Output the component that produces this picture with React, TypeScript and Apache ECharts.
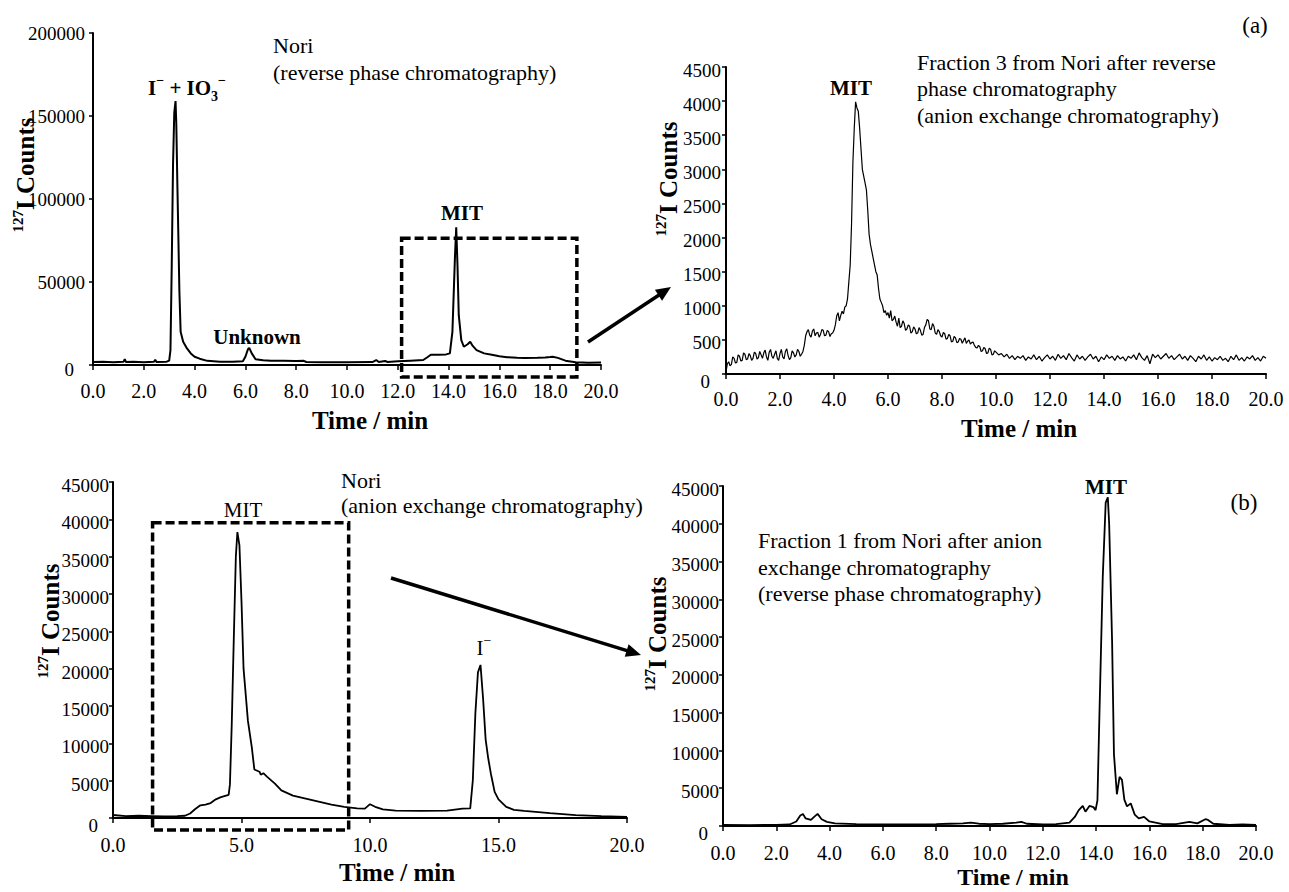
import React, { useEffect, useRef } from "react";
import * as echarts from "echarts";

// ---------- data (time / min, 127I counts) ----------
const noriReversePhase: [number, number][] = [
  [0.0, 1800], [0.4, 2000], [0.8, 1700], [1.2, 1900], [1.25, 3500], [1.3, 1800], [1.6, 2000], [2.0, 1700],
  [2.4, 1900], [2.45, 3200], [2.5, 1800], [2.9, 2000], [3.0, 2600], [3.05, 9000], [3.1, 60000], [3.15, 120000],
  [3.2, 152000], [3.25, 159000], [3.28, 145000], [3.32, 110000], [3.36, 78000], [3.4, 45000], [3.45, 20000],
  [3.55, 14000], [3.7, 10000], [3.85, 7000], [4.0, 5000], [4.2, 3800], [4.5, 2500], [5.0, 2000], [5.5, 1900],
  [5.9, 2200], [6.0, 5000], [6.1, 9500], [6.15, 10300], [6.25, 7000], [6.4, 3500], [6.7, 2800], [7.0, 2600],
  [7.5, 2500], [8.0, 2400], [8.3, 2500], [8.4, 1800], [9.0, 1700], [10.0, 1700], [11.0, 1800], [11.15, 3000],
  [11.25, 1800], [11.5, 2400], [11.6, 1800], [12.0, 2200], [12.5, 2600], [13.0, 3000], [13.15, 4500],
  [13.3, 6200], [13.6, 6200], [13.9, 6400], [14.05, 7000], [14.15, 20000], [14.25, 65000], [14.3, 83000],
  [14.35, 60000], [14.4, 30000], [14.5, 15000], [14.6, 11000], [14.75, 12500], [14.85, 14000], [14.95, 11500],
  [15.1, 9000], [15.4, 7000], [15.7, 6200], [16.0, 5300], [16.3, 4700], [16.7, 4400], [17.0, 4200],
  [17.5, 4300], [17.8, 4500], [18.0, 4800], [18.1, 5000], [18.3, 4300], [18.6, 2600], [19.0, 1600],
  [19.5, 1400], [20.0, 1500],
];

const fraction3Anion: [number, number][] = [
  [0.0, 30], [0.05, 150], [0.1, 180], [0.15, 120], [0.2, 140], [0.25, 250], [0.3, 230], [0.35, 160], [0.4, 170],
  [0.45, 280], [0.5, 260], [0.55, 190], [0.6, 200], [0.65, 310], [0.7, 290], [0.75, 210], [0.8, 220], [0.85, 300],
  [0.9, 270], [0.95, 200], [1.0, 230], [1.05, 320], [1.1, 300], [1.15, 220], [1.2, 240], [1.25, 330], [1.3, 280],
  [1.35, 230], [1.4, 310], [1.45, 350], [1.5, 250], [1.55, 200], [1.6, 320], [1.65, 360], [1.7, 260], [1.75, 230],
  [1.8, 290], [1.85, 340], [1.9, 230], [1.95, 200], [2.0, 300], [2.05, 360], [2.1, 250], [2.15, 220], [2.2, 330],
  [2.25, 370], [2.3, 270], [2.35, 210], [2.4, 240], [2.45, 340], [2.5, 310], [2.55, 250], [2.6, 280], [2.65, 360],
  [2.7, 330], [2.75, 260], [2.8, 290], [2.85, 330], [2.9, 420], [2.95, 560], [3.0, 620], [3.05, 650], [3.1, 570],
  [3.15, 540], [3.2, 630], [3.25, 660], [3.3, 560], [3.35, 600], [3.4, 610], [3.45, 540], [3.5, 580], [3.55, 650],
  [3.6, 640], [3.65, 560], [3.7, 570], [3.75, 640], [3.8, 620], [3.85, 550], [3.9, 590], [3.95, 600], [4.0, 640],
  [4.05, 720], [4.1, 850], [4.15, 900], [4.2, 780], [4.25, 860], [4.3, 920], [4.35, 880], [4.4, 980], [4.45, 1000],
  [4.5, 1100], [4.55, 1350], [4.6, 1600], [4.65, 2200], [4.7, 3100], [4.75, 3600], [4.8, 3990], [4.85, 3900],
  [4.9, 3850], [4.95, 3600], [5.0, 3300], [5.05, 3000], [5.1, 2900], [5.15, 2800], [5.2, 2700], [5.25, 2400],
  [5.3, 2050], [5.35, 1900], [5.4, 1800], [5.45, 1700], [5.5, 1600], [5.55, 1500], [5.6, 1450], [5.65, 1250],
  [5.7, 1100], [5.75, 1050], [5.8, 1000], [5.85, 900], [5.9, 930], [5.95, 860], [6.0, 900], [6.05, 820],
  [6.1, 930], [6.15, 780], [6.2, 800], [6.25, 850], [6.3, 760], [6.35, 700], [6.4, 820], [6.45, 680], [6.5, 700],
  [6.55, 780], [6.6, 740], [6.65, 640], [6.7, 660], [6.75, 720], [6.8, 700], [6.85, 600], [6.9, 620], [6.95, 690],
  [7.0, 660], [7.05, 590], [7.1, 600], [7.15, 680], [7.2, 640], [7.25, 570], [7.3, 580], [7.35, 680], [7.4, 720],
  [7.45, 800], [7.5, 780], [7.55, 660], [7.6, 650], [7.65, 740], [7.7, 700], [7.75, 600], [7.8, 580], [7.85, 650],
  [7.9, 620], [7.95, 560], [8.0, 540], [8.05, 610], [8.1, 590], [8.15, 510], [8.2, 520], [8.25, 580], [8.3, 560],
  [8.35, 470], [8.4, 480], [8.45, 550], [8.5, 530], [8.55, 460], [8.6, 470], [8.65, 520], [8.7, 510], [8.75, 450],
  [8.8, 490], [8.85, 530], [8.9, 450], [8.95, 480], [9.0, 500], [9.05, 440], [9.1, 460], [9.15, 470], [9.2, 420],
  [9.25, 390], [9.3, 380], [9.35, 420], [9.4, 400], [9.45, 330], [9.5, 340], [9.55, 390], [9.6, 370], [9.65, 300],
  [9.7, 310], [9.75, 380], [9.8, 360], [9.85, 280], [9.9, 290], [9.95, 340], [10.0, 320], [10.1, 280], [10.2, 300],
  [10.3, 250], [10.4, 290], [10.5, 230], [10.6, 270], [10.7, 210], [10.8, 260], [10.9, 230], [11.0, 270],
  [11.1, 200], [11.2, 250], [11.3, 220], [11.4, 280], [11.5, 210], [11.6, 260], [11.7, 190], [11.8, 240],
  [11.9, 280], [12.0, 220], [12.1, 260], [12.2, 200], [12.3, 290], [12.4, 230], [12.5, 270], [12.6, 210],
  [12.7, 300], [12.8, 240], [12.9, 190], [13.0, 280], [13.1, 220], [13.2, 260], [13.3, 200], [13.4, 250],
  [13.5, 290], [13.6, 220], [13.7, 260], [13.8, 180], [13.9, 250], [14.0, 210], [14.1, 280], [14.2, 230],
  [14.3, 260], [14.4, 200], [14.5, 270], [14.6, 220], [14.7, 250], [14.8, 190], [14.9, 260], [15.0, 230],
  [15.1, 280], [15.2, 210], [15.3, 310], [15.4, 240], [15.5, 200], [15.6, 270], [15.7, 150], [15.8, 290],
  [15.9, 240], [16.0, 280], [16.1, 220], [16.2, 260], [16.3, 300], [16.4, 230], [16.5, 270], [16.6, 210],
  [16.7, 250], [16.8, 290], [16.9, 220], [17.0, 260], [17.1, 200], [17.2, 270], [17.3, 230], [17.4, 180],
  [17.5, 260], [17.6, 220], [17.7, 280], [17.8, 200], [17.9, 250], [18.0, 190], [18.1, 240], [18.2, 210],
  [18.3, 260], [18.4, 200], [18.5, 230], [18.6, 180], [18.7, 260], [18.8, 210], [18.9, 280], [19.0, 200],
  [19.1, 240], [19.2, 190], [19.3, 250], [19.4, 220], [19.5, 270], [19.6, 200], [19.7, 240], [19.8, 190],
  [19.9, 260], [20.0, 230],
];

const noriAnion: [number, number][] = [
  [0.0, 400], [0.5, 250], [1.0, 300], [1.5, 250], [2.0, 200], [2.5, 250], [2.8, 300], [3.0, 600], [3.2, 1200],
  [3.4, 1700], [3.6, 1800], [3.8, 2000], [4.0, 2500], [4.2, 2800], [4.4, 3000], [4.5, 3100], [4.55, 4500],
  [4.62, 12500], [4.7, 24000], [4.78, 35000], [4.84, 38300], [4.92, 36500], [5.0, 29000], [5.08, 20000],
  [5.25, 13000], [5.4, 9500], [5.5, 6500], [5.7, 6200], [5.75, 5800], [5.85, 6000], [6.0, 5500], [6.3, 4600],
  [6.55, 3700], [7.0, 3000], [7.5, 2600], [8.0, 2200], [8.5, 1800], [9.0, 1500], [9.5, 1300], [9.8, 1250],
  [10.0, 1850], [10.2, 1500], [10.5, 1150], [11.0, 1000], [12.0, 950], [13.0, 1000], [13.6, 1250], [13.9, 1300],
  [14.0, 5000], [14.1, 14000], [14.2, 19500], [14.3, 20500], [14.4, 16000], [14.5, 10500], [14.6, 8000],
  [14.7, 6000], [14.85, 3500], [15.0, 2500], [15.3, 1500], [15.6, 1100], [16.0, 950], [17.0, 650], [18.0, 380],
  [19.0, 250], [20.0, 150],
];

const fraction1Reverse: [number, number][] = [
  [0.0, 150], [1.0, 120], [2.0, 150], [2.5, 200], [2.75, 600], [2.9, 1400], [3.0, 1600], [3.1, 1000], [3.3, 800],
  [3.45, 1300], [3.55, 1600], [3.7, 900], [3.9, 550], [4.2, 350], [5.0, 250], [6.0, 200], [7.0, 200], [8.0, 250],
  [8.5, 300], [9.0, 350], [9.3, 450], [9.6, 300], [10.0, 250], [10.5, 300], [11.0, 450], [11.2, 550], [11.4, 300],
  [12.0, 200], [12.5, 250], [13.0, 450], [13.2, 1200], [13.35, 2100], [13.5, 2650], [13.6, 1900], [13.75, 2650],
  [13.9, 2500], [13.98, 2100], [14.05, 3400], [14.13, 15500], [14.25, 33000], [14.36, 42800], [14.44, 43500],
  [14.49, 40000], [14.6, 24500], [14.67, 9500], [14.78, 4200], [14.88, 6500], [14.97, 6100], [15.06, 3500],
  [15.16, 2600], [15.3, 3000], [15.45, 1500], [15.6, 1000], [15.8, 1200], [16.0, 600], [16.5, 250], [17.0, 250],
  [17.5, 550], [17.8, 350], [18.1, 900], [18.2, 800], [18.4, 300], [19.0, 150], [19.5, 200], [20.0, 150],
];

// dashed selection boxes in data space: [t0, t1, countLow, countHigh]
const boxReversePhase = [12.15, 19.05, -7200, 76300];
const boxAnion = [1.54, 9.17, -1600, 39550];

const FONT = '"Liberation Serif", "Times New Roman", serif';

export default function App() {
  const ref = useRef<HTMLDivElement>(null);

  useEffect(() => {
    const chart = echarts.init(ref.current!, null, { renderer: "svg" });

    const grids = [
      { left: 93, top: 33, width: 508, height: 332 },
      { left: 726, top: 67, width: 540, height: 307 },
      { left: 113, top: 482, width: 514, height: 336 },
      { left: 723, top: 486, width: 533, height: 340 },
    ];

    const xAxis = (gridIndex: number, interval: number, margin: number) => ({
      type: "value",
      gridIndex,
      min: 0,
      max: 20,
      interval,
      axisLine: { show: true, onZero: false, lineStyle: { color: "#000", width: 2 } },
      axisTick: { show: true, length: 5, lineStyle: { color: "#000", width: 1.5 } },
      axisLabel: {
        color: "#000",
        fontFamily: FONT,
        fontSize: 20,
        margin,
        formatter: (v: number) => v.toFixed(1),
      },
      splitLine: { show: false },
    });

    const yAxis = (gridIndex: number, max: number, interval: number, margin: number, drop: number) => ({
      type: "value",
      gridIndex,
      min: 0,
      max,
      interval,
      axisLine: { show: true, onZero: false, lineStyle: { color: "#000", width: 2 } },
      axisTick: { show: true, length: 4, lineStyle: { color: "#000", width: 1.5 } },
      axisLabel: {
        color: "#000",
        fontFamily: FONT,
        fontSize: 19,
        margin,
        formatter: (v: number) => (v === 0 ? "{z|0}" : "{n|" + String(v) + "}"),
        rich: {
          n: { fontFamily: FONT, fontSize: 19, color: "#000", padding: [drop, 0, 0, 0] },
          z: { fontFamily: FONT, fontSize: 19, color: "#000", padding: [drop + 8, 11, 0, 0] },
        },
      },
      splitLine: { show: false },
    });

    const line = (i: number, data: [number, number][], width: number) => ({
      type: "line",
      xAxisIndex: i,
      yAxisIndex: i,
      data,
      showSymbol: false,
      symbol: "none",
      smooth: false,
      lineStyle: { color: "#000", width },
      silent: true,
    });

    chart.setOption({
      animation: false,
      backgroundColor: "#fff",
      grid: grids,
      xAxis: [xAxis(0, 2, 16), xAxis(1, 2, 15), xAxis(2, 5, 17), xAxis(3, 2, 17)],
      yAxis: [
        yAxis(0, 200000, 50000, 8, 0),
        yAxis(1, 4500, 500, 5, 6),
        yAxis(2, 45000, 5000, 4, 7),
        yAxis(3, 45000, 5000, 4, 6),
      ],
      series: [
        line(0, noriReversePhase, 2),
        line(1, fraction3Anion, 1.2),
        line(2, noriAnion, 1.8),
        line(3, fraction1Reverse, 1.8),
      ],
    });

    const txt = (x: number, y: number, text: string, o: any = {}) => ({
      type: "text",
      x,
      y,
      rotation: o.rot || 0,
      silent: true,
      z: 100,
      style: {
        text,
        fill: "#000",
        fontFamily: FONT,
        fontSize: o.size || 22,
        fontWeight: o.bold ? "bold" : "normal",
        textAlign: o.align || "center",
        textVerticalAlign: "middle",
        align: o.align || "center",
        verticalAlign: "middle",
        rich: o.rich,
      },
    });

    const tok = (size: number, bold: boolean, va: string, lh: number) => ({
      fontSize: size,
      fontWeight: bold ? "bold" : "normal",
      fontFamily: FONT,
      fill: "#000",
      color: "#000",
      verticalAlign: va,
      lineHeight: lh,
    });

    const richY = { s: tok(15, true, "top", 30), b: tok(25, true, "middle", 30) };
    const richIon = { s: tok(14, true, "top", 30), u: tok(14, true, "bottom", 30), b: tok(21, true, "middle", 30) };
    const richIodide = { s: tok(14, false, "top", 30), b: tok(21, false, "middle", 30) };

    const yName = (x: number, y: number) =>
      txt(x, y, "{s|127}{b|I Counts}", { rot: Math.PI / 2, rich: richY });

    const rectBox = (gridIndex: number, b: number[]) => {
      const p0 = chart.convertToPixel({ gridIndex }, [b[0], b[3]]) as number[];
      const p1 = chart.convertToPixel({ gridIndex }, [b[1], b[2]]) as number[];
      return {
        type: "rect",
        silent: true,
        z: 90,
        shape: { x: p0[0], y: p0[1], width: p1[0] - p0[0], height: p1[1] - p0[1] },
        style: { fill: "none", stroke: "#000", lineWidth: 3.5, lineDash: [9, 4] },
      };
    };

    const arrow = (p0: number[], p1: number[]) => {
      const dx = p1[0] - p0[0];
      const dy = p1[1] - p0[1];
      const L = Math.hypot(dx, dy);
      const ux = dx / L;
      const uy = dy / L;
      const head = 15;
      const half = 6.5;
      const bx = p1[0] - ux * head;
      const by = p1[1] - uy * head;
      const nx = -uy;
      const ny = ux;
      return [
        {
          type: "line",
          silent: true,
          z: 90,
          shape: { x1: p0[0], y1: p0[1], x2: bx + ux * 2, y2: by + uy * 2 },
          style: { stroke: "#000", lineWidth: 3.5 },
        },
        {
          type: "polygon",
          silent: true,
          z: 90,
          shape: {
            points: [
              [p1[0], p1[1]],
              [bx + nx * half, by + ny * half],
              [bx - nx * half, by - ny * half],
            ],
          },
          style: { fill: "#000" },
        },
      ];
    };

    const graphics: any[] = [
      rectBox(0, boxReversePhase),
      rectBox(2, boxAnion),
      ...arrow([588, 342], [671, 287]),
      ...arrow([391, 578], [641, 655]),
      // panel (a) left
      txt(273, 45, "Nori", { align: "left" }),
      txt(273, 72, "(reverse phase chromatography)", { align: "left" }),
      txt(148, 88, "{b|I}{s|−}{b| + IO}{u|3}{s|−}", { align: "left", rich: richIon }),
      txt(257, 337, "Unknown", { bold: true, size: 21 }),
      txt(462, 213, "MIT", { bold: true, size: 21 }),
      yName(25, 175),
      txt(370, 420, "Time / min", { bold: true, size: 25 }),
      // panel (a) right
      txt(1255, 25, "(a)", { size: 23 }),
      txt(917, 62, "Fraction 3 from Nori after reverse", { align: "left" }),
      txt(917, 88, "phase chromatography", { align: "left" }),
      txt(917, 115, "(anion exchange chromatography)", { align: "left" }),
      txt(851, 88, "MIT", { bold: true, size: 21 }),
      yName(668, 179),
      txt(1019, 428, "Time / min", { bold: true, size: 25 }),
      // panel (b) left
      txt(341, 480, "Nori", { align: "left" }),
      txt(341, 505, "(anion exchange chromatography)", { align: "left" }),
      txt(243, 510, "MIT", { size: 21 }),
      txt(484, 648, "{b|I}{s|−}", { rich: richIodide }),
      yName(50, 621),
      txt(397, 872, "Time / min", { bold: true, size: 25 }),
      // panel (b) right
      txt(1244, 502, "(b)", { size: 23 }),
      txt(758, 540, "Fraction 1 from Nori after anion", { align: "left" }),
      txt(758, 567, "exchange chromatography", { align: "left" }),
      txt(758, 593, "(reverse phase chromatography)", { align: "left" }),
      txt(1106, 487, "MIT", { bold: true, size: 21 }),
      yName(657, 634),
      txt(1013, 877, "Time / min", { bold: true, size: 24 }),
    ];

    chart.setOption({ graphic: graphics });

    return () => chart.dispose();
  }, []);

  return (
    <div
      ref={ref}
      style={{ position: "absolute", left: 0, top: 0, width: 1289, height: 892, background: "#fff" }}
    />
  );
}
